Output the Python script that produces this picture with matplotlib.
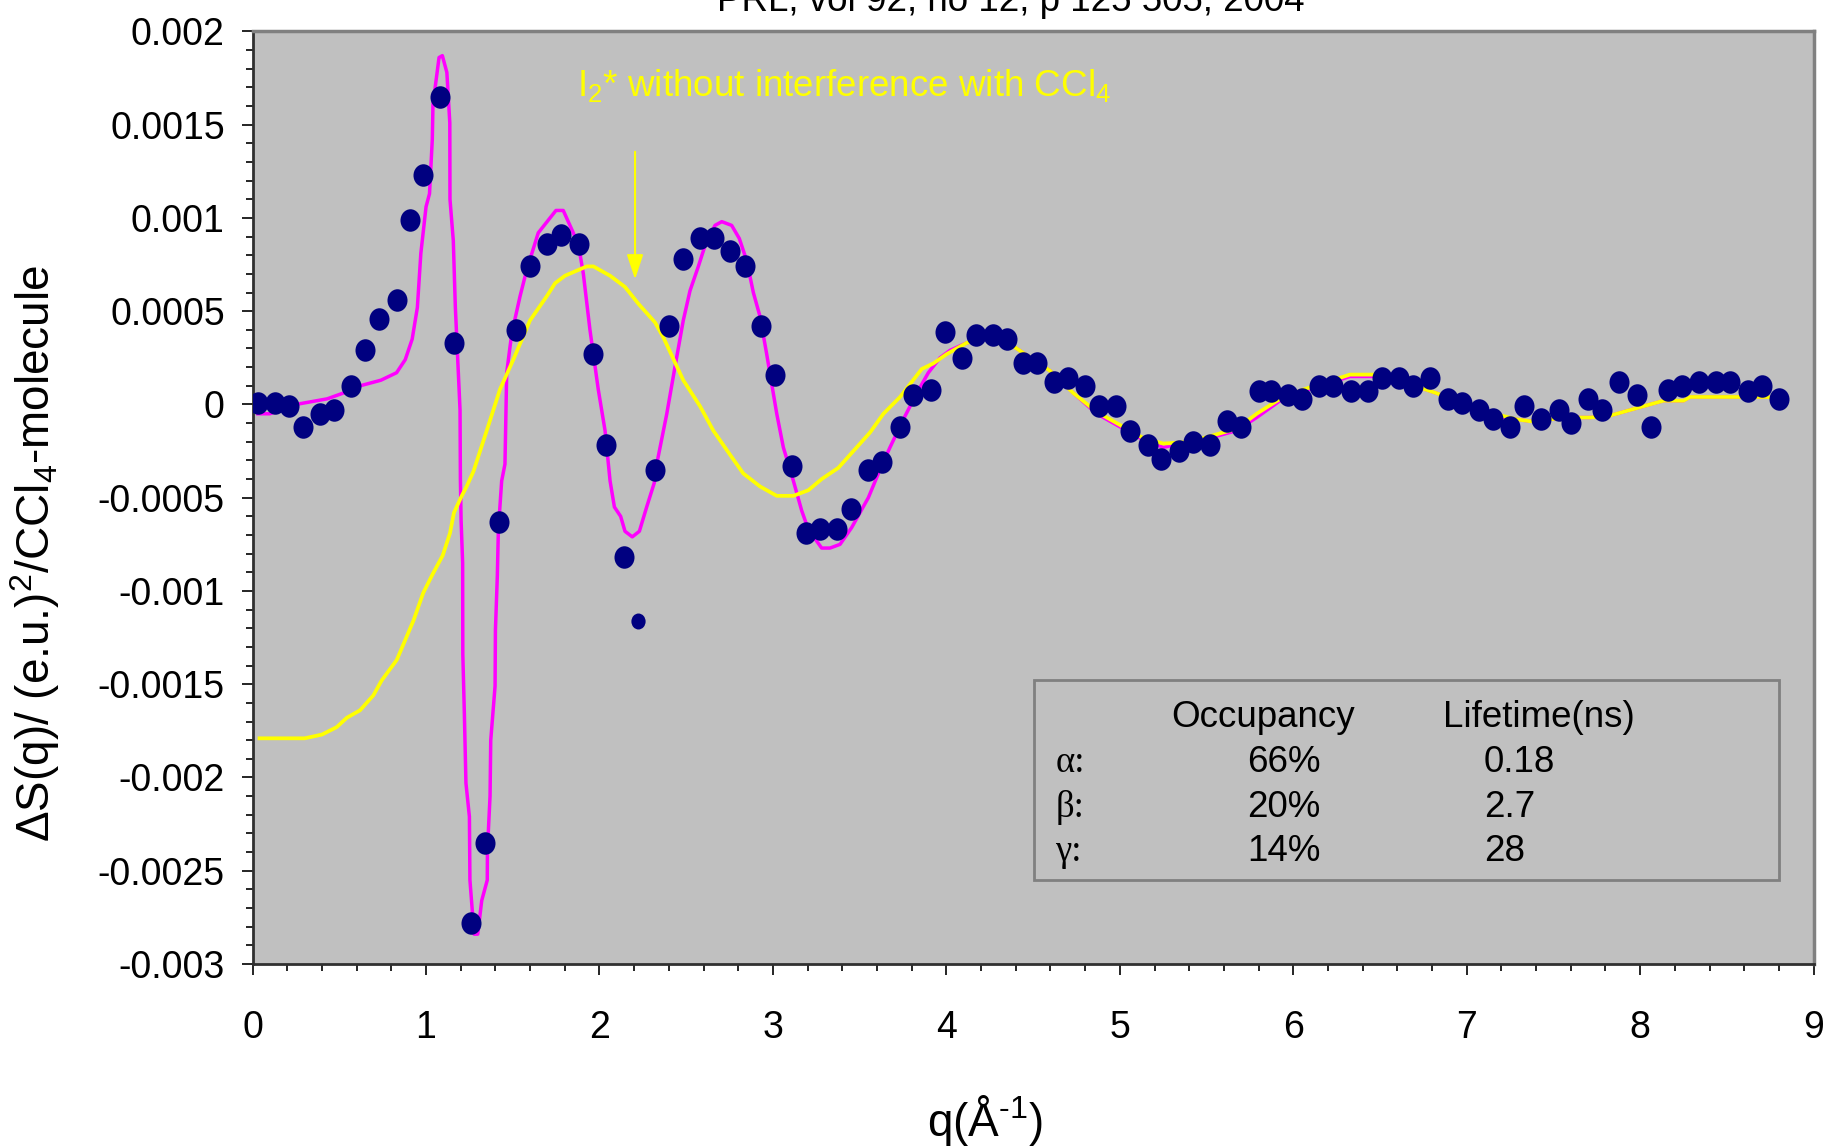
# dS(q) of I2 in CCl4 - time resolved x-ray diffraction (PRL 92, 125505)
import numpy as np
import matplotlib
matplotlib.use('Agg')
import matplotlib.pyplot as plt
from matplotlib.path import Path
from matplotlib.transforms import Affine2D
from matplotlib.patches import Rectangle
from matplotlib.ticker import MultipleLocator

plt.rcParams['font.family'] = ['Liberation Sans', 'DejaVu Sans']
plt.rcParams['mathtext.fontset'] = 'custom'
plt.rcParams['mathtext.rm'] = 'Liberation Sans'
plt.rcParams['axes.unicode_minus'] = False

# Experimental points (q in 1/A, dS)
exp_q = [0.03, 0.13, 0.21, 0.29, 0.39, 0.47, 0.57, 0.65, 0.73, 0.83,
         0.91, 0.98, 1.08, 1.16, 1.26, 1.34, 1.42, 1.52, 1.60, 1.70,
         1.78, 1.88, 1.96, 2.04, 2.14, 2.32, 2.40, 2.48, 2.58, 2.66,
         2.75, 2.84, 2.93, 3.01, 3.11, 3.19, 3.27, 3.37, 3.45, 3.55,
         3.63, 3.73, 3.81, 3.91, 3.99, 4.09, 4.17, 4.27, 4.35, 4.44,
         4.52, 4.62, 4.70, 4.80, 4.88, 4.98, 5.06, 5.16, 5.24, 5.34,
         5.42, 5.52, 5.62, 5.70, 5.80, 5.87, 5.97, 6.05, 6.15, 6.23,
         6.33, 6.43, 6.51, 6.61, 6.69, 6.79, 6.89, 6.97, 7.07, 7.15,
         7.25, 7.33, 7.43, 7.53, 7.60, 7.70, 7.78, 7.88, 7.98, 8.06,
         8.16, 8.24, 8.34, 8.44, 8.52, 8.62, 8.70, 8.80]
exp_s = [0.00001, 0.00001, -0.00001, -0.00012, -0.00005, -0.00003, 0.00010, 0.00029, 0.00046, 0.00056,
         0.00099, 0.00123, 0.00165, 0.00033, -0.00278, -0.00235, -0.00063, 0.00040, 0.00074, 0.00086,
         0.00091, 0.00086, 0.00027, -0.00022, -0.00082, -0.00035, 0.00042, 0.00078, 0.00089, 0.00089,
         0.00082, 0.00074, 0.00042, 0.00016, -0.00033, -0.00069, -0.00067, -0.00067, -0.00056, -0.00035,
         -0.00031, -0.00012, 0.00005, 0.00008, 0.00039, 0.00025, 0.00037, 0.00037, 0.00035, 0.00022,
         0.00022, 0.00012, 0.00014, 0.00010, -0.00001, -0.00001, -0.00014, -0.00022, -0.00029, -0.00025,
         -0.00020, -0.00022, -0.00009, -0.00012, 0.00007, 0.00007, 0.00005, 0.00003, 0.00010, 0.00010,
         0.00007, 0.00007, 0.00014, 0.00014, 0.00010, 0.00014, 0.00003, 0.00001, -0.00003, -0.00008,
         -0.00012, -0.00001, -0.00008, -0.00003, -0.00010, 0.00003, -0.00003, 0.00012, 0.00005, -0.00012,
         0.00008, 0.00010, 0.00012, 0.00012, 0.00012, 0.00007, 0.00010, 0.00003]

# one point drawn with a smaller marker
small_q = [2.22]
small_s = [-0.00116]

# fit (magenta)
fit_q = [0.03, 0.10, 0.25, 0.43, 0.52, 0.62, 0.74, 0.83, 0.88, 0.92,
         0.95, 0.97, 1.00, 1.02, 1.036, 1.04, 1.075, 1.094, 1.12, 1.137,
         1.138, 1.157, 1.169, 1.196, 1.198, 1.202, 1.211, 1.212, 1.221, 1.230,
         1.250, 1.253, 1.277, 1.298, 1.321, 1.353, 1.354, 1.369, 1.373, 1.398,
         1.400, 1.411, 1.417, 1.436, 1.455, 1.465, 1.494, 1.542, 1.580, 1.647,
         1.749, 1.791, 1.878, 1.907, 1.945, 1.993, 2.032, 2.061, 2.086, 2.122,
         2.147, 2.189, 2.230, 2.272, 2.316, 2.330, 2.388, 2.435, 2.483, 2.522,
         2.570, 2.608, 2.666, 2.705, 2.762, 2.806, 2.849, 2.887, 2.926, 2.964,
         3.022, 3.060, 3.118, 3.166, 3.204, 3.281, 3.329, 3.387, 3.454, 3.550,
         3.617, 3.675, 3.752, 3.829, 3.896, 3.963, 4.021, 4.117, 4.213, 4.328,
         4.405, 4.598, 4.733, 4.867, 5.001, 5.135, 5.251, 5.405, 5.559, 5.674,
         5.789, 5.924, 6.058, 6.193, 6.327, 6.462, 6.597, 6.731, 6.827, 6.960,
         7.097, 7.202, 7.288, 7.365, 7.480, 7.576, 7.711, 7.826, 7.980, 8.134,
         8.250, 8.288, 8.441, 8.595, 8.730, 8.80]
fit_s = [-0.00005, -0.00005, 0.00000, 0.00003, 0.00006, 0.00010, 0.00013, 0.00017, 0.00024, 0.00035,
         0.00052, 0.00081, 0.00106, 0.00113, 0.00142, 0.00161, 0.00186, 0.00187, 0.00178, 0.00151,
         0.00110, 0.00088, 0.00052, -0.00003, -0.00040, -0.00062, -0.00085, -0.00134, -0.00166, -0.00203,
         -0.00221, -0.00255, -0.00284, -0.00284, -0.00266, -0.00255, -0.00239, -0.00210, -0.00180, -0.00151,
         -0.00121, -0.00092, -0.00067, -0.00041, -0.00032, 0.00017, 0.00038, 0.00058, 0.00072, 0.00092,
         0.00104, 0.00104, 0.00086, 0.00070, 0.00040, 0.00008, -0.00014, -0.00041, -0.00055, -0.00060,
         -0.00068, -0.00071, -0.00068, -0.00055, -0.00042, -0.00032, -0.00005, 0.00020, 0.00045, 0.00061,
         0.00074, 0.00085, 0.00096, 0.00098, 0.00096, 0.00089, 0.00077, 0.00060, 0.00047, 0.00027,
         -0.00005, -0.00023, -0.00041, -0.00057, -0.00067, -0.00077, -0.00077, -0.00075, -0.00066, -0.00050,
         -0.00035, -0.00023, -0.00008, 0.00006, 0.00017, 0.00025, 0.00029, 0.00033, 0.00035, 0.00035,
         0.00030, 0.00018, 0.00006, -0.00005, -0.00012, -0.00019, -0.00023, -0.00020, -0.00017, -0.00014,
         -0.00007, 0.00002, 0.00007, 0.00011, 0.00015, 0.00015, 0.00013, 0.00009, 0.00006, 0.00001,
         -0.00005, -0.00007, -0.00008, -0.00009, -0.00008, -0.00007, -0.00007, -0.00006, -0.00002, 0.00002,
         0.00002, 0.00004, 0.00004, 0.00004, 0.00004, 0.00003]

# I2* without interference with CCl4 (yellow)
i2_q = [0.04, 0.30, 0.40, 0.485, 0.543, 0.619, 0.696, 0.744, 0.831, 0.927,
        0.984, 1.038, 1.096, 1.138, 1.161, 1.206, 1.234, 1.273, 1.350, 1.426,
        1.503, 1.599, 1.696, 1.744, 1.801, 1.926, 1.965, 2.061, 2.147, 2.224,
        2.320, 2.368, 2.483, 2.580, 2.656, 2.753, 2.829, 2.926, 3.022, 3.118,
        3.204, 3.281, 3.377, 3.483, 3.560, 3.637, 3.733, 3.858, 3.925, 4.002,
        4.117, 4.213, 4.328, 4.405, 4.598, 4.733, 4.867, 5.001, 5.135, 5.251,
        5.405, 5.559, 5.674, 5.789, 5.924, 6.058, 6.193, 6.327, 6.462, 6.597,
        6.731, 6.827, 6.960, 7.097, 7.202, 7.288, 7.365, 7.480, 7.576, 7.711,
        7.826, 7.980, 8.134, 8.250, 8.288, 8.441, 8.595, 8.730, 8.80]
i2_s = [-0.00179, -0.00179, -0.00177, -0.00173, -0.00168, -0.00164, -0.00156, -0.00148, -0.00137, -0.00116,
        -0.00101, -0.00091, -0.00081, -0.00069, -0.00058, -0.00049, -0.00044, -0.00036, -0.00014, 0.00008,
        0.00024, 0.00045, 0.00058, 0.00065, 0.00069, 0.00074, 0.00074, 0.00069, 0.00063, 0.00054,
        0.00044, 0.00036, 0.00013, -0.00001, -0.00014, -0.00027, -0.00037, -0.00044, -0.00049, -0.00049,
        -0.00046, -0.00040, -0.00034, -0.00023, -0.00015, -0.00005, 0.00004, 0.00019, 0.00022, 0.00027,
        0.00033, 0.00035, 0.00035, 0.00030, 0.00018, 0.00006, -0.00004, -0.00011, -0.00018, -0.00021,
        -0.00020, -0.00016, -0.00013, -0.00005, 0.00003, 0.00008, 0.00012, 0.00016, 0.00016, 0.00013,
        0.00009, 0.00006, 0.00001, -0.00005, -0.00006, -0.00008, -0.00009, -0.00008, -0.00007, -0.00007,
        -0.00006, -0.00002, 0.00002, 0.00002, 0.00004, 0.00004, 0.00004, 0.00004, 0.00003]

# axis ticks
x_ticks = [0, 1, 2, 3, 4, 5, 6, 7, 8, 9]
x_tick_labels = ['0', '1', '2', '3', '4', '5', '6', '7', '8', '9']
y_ticks = [-0.003, -0.0025, -0.002, -0.0015, -0.001, -0.0005, 0, 0.0005, 0.001, 0.0015, 0.002]
y_tick_labels = ['-0.003', '-0.0025', '-0.002', '-0.0015', '-0.001', '-0.0005', '0',
                 '0.0005', '0.001', '0.0015', '0.002']

# inset table
states = ['\u03b1:', '\u03b2:', '\u03b3:']
occupancy = ['66%', '20%', '14%']
lifetime = ['0.18', '2.7', '28']

W, H = 1825, 1148
fig = plt.figure(figsize=(W / 100, H / 100), dpi=100)
ax = fig.add_axes([252.6 / W, 1 - 964 / H, 1561 / W, 932.6 / H])
ax.set_facecolor('#C0C0C0')

ax.plot(fit_q, fit_s, color='#FF00FF', lw=2.5, zorder=2)
ax.plot(i2_q, i2_s, color='#FFFF00', lw=2.7, zorder=3)

# slightly tall elliptical markers like the original
ell = Path.unit_circle().transformed(Affine2D().scale(0.89, 1.0))
ax.plot(exp_q, exp_s, ls='none', marker=ell, ms=16.2, mfc='#000080', mec='#000080', mew=0, zorder=4)
ax.plot(small_q, small_s, ls='none', marker=ell, ms=11.5, mfc='#000080', mec='#000080', mew=0, zorder=4)

ax.set_xlim(0, 9)
ax.set_ylim(-0.003, 0.002)
ax.set_xticks(x_ticks)
ax.set_xticklabels(x_tick_labels)
ax.set_yticks(y_ticks)
ax.set_yticklabels(y_tick_labels)
ax.xaxis.set_minor_locator(MultipleLocator(0.2))
ax.yaxis.set_minor_locator(MultipleLocator(0.0001))
ax.tick_params(which='major', direction='out', length=8, width=1.2, labelsize=27)
ax.tick_params(which='minor', direction='out', length=5, width=1.2)
ax.tick_params(axis='y', which='major', pad=12)
ax.tick_params(axis='x', which='major', pad=25)

for s in ['left', 'bottom']:
    ax.spines[s].set_color('#303030')
    ax.spines[s].set_linewidth(2)
for s in ['top', 'right']:
    ax.spines[s].set_color('#808080')
    ax.spines[s].set_linewidth(2.5)

# annotation with arrow
ax.text(1.869, 0.00165, r'I$_\mathregular{2}$* without interference with CCl$_\mathregular{4}$',
        color='#FFFF00', fontsize=26.5, va='baseline')
ax.annotate('', xy=(2.205, 0.000671), xytext=(2.205, 0.001355),
            arrowprops=dict(arrowstyle='-|>,head_length=0.6,head_width=0.2', color='#FFFF00',
                            lw=1.5, shrinkA=0, shrinkB=0, mutation_scale=25))

# inset box
ax.add_patch(Rectangle((4.508, -0.00255), 4.29, 0.001072, fc='#C0C0C0', ec='#808080', lw=2, zorder=5))
ax.text(5.826, -0.001731, 'Occupancy', fontsize=26.5, ha='center', va='baseline', zorder=6)
ax.text(7.417, -0.001731, 'Lifetime(ns)', fontsize=26.5, ha='center', va='baseline', zorder=6)
row_y = [-0.001969, -0.002211, -0.002447]
for i in range(3):
    ax.text(4.629, row_y[i], states[i], fontsize=26.5, family='Liberation Serif', va='baseline', zorder=6)
    ax.text(5.947, row_y[i], occupancy[i], fontsize=26.5, ha='center', va='baseline', zorder=6)
    ax.text(7.098, row_y[i], lifetime[i], fontsize=26.5, ha='left', va='baseline', zorder=6)

# labels
fig.text(35 / W, 1 - 553 / H, r'$\Delta$S(q)/ (e.u.)$^\mathregular{2}$/CCl$_\mathregular{4}$-molecule',
         rotation=90, ha='center', va='center', fontsize=33)
fig.text(985 / W, 1 - 1120 / H, 'q(Å$^\\mathregular{\u2010 1}$)', ha='center', va='center', fontsize=33)
fig.text(1011 / W, 1 - 11 / H, 'PRL, vol 92, no 12, p 125 505, 2004', ha='center', va='baseline', fontsize=26.5)

fig.savefig('out.png', dpi=100)
